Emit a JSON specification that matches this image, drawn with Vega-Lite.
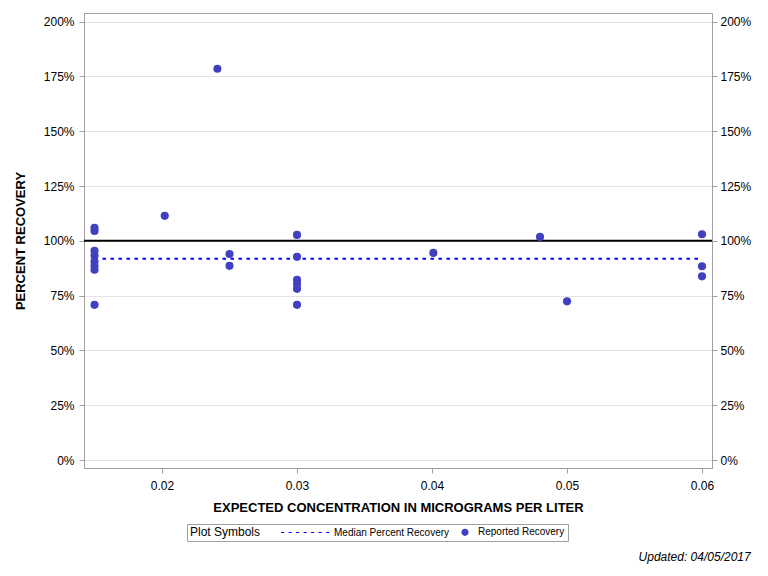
{
  "$schema": "https://vega.github.io/schema/vega-lite/v6.json",
  "autosize": {"type": "none"},
  "padding": {"left": 84, "top": 13, "right": 56, "bottom": 108},
  "width": 628,
  "height": 455,
  "background": "white",
  "title": {
    "text": "Updated: 04/05/2017",
    "orient": "bottom",
    "anchor": "end",
    "frame": "bounds",
    "font": "Liberation Sans",
    "fontSize": 12,
    "fontStyle": "italic",
    "fontWeight": "normal",
    "color": "#000000",
    "offset": 10
  },
  "config": {
    "font": "Liberation Sans",
    "view": {"stroke": "#a0a0a0"},
    "axis": {
      "labelFont": "Liberation Sans",
      "labelFontSize": 12,
      "labelColor": "#000000",
      "titleFont": "Liberation Sans",
      "titleFontSize": 13,
      "titleFontWeight": "bold",
      "titleColor": "#000000",
      "domainColor": "#a0a0a0",
      "tickColor": "#a0a0a0",
      "tickSize": 5,
      "gridColor": "#e4e4e4"
    }
  },
  "datasets": {
    "recovery": [
      {"conc": 0.015, "pct": 105.9},
      {"conc": 0.015, "pct": 104.5},
      {"conc": 0.015, "pct": 95.4},
      {"conc": 0.015, "pct": 93.2},
      {"conc": 0.015, "pct": 90.5},
      {"conc": 0.015, "pct": 88.5},
      {"conc": 0.015, "pct": 86.8},
      {"conc": 0.015, "pct": 70.8},
      {"conc": 0.0202, "pct": 111.4},
      {"conc": 0.0241, "pct": 178.5},
      {"conc": 0.025, "pct": 94.0},
      {"conc": 0.025, "pct": 88.6},
      {"conc": 0.03, "pct": 102.7},
      {"conc": 0.03, "pct": 92.7},
      {"conc": 0.03, "pct": 82.2},
      {"conc": 0.03, "pct": 80.3},
      {"conc": 0.03, "pct": 78.1},
      {"conc": 0.03, "pct": 70.8},
      {"conc": 0.0401, "pct": 94.5},
      {"conc": 0.048, "pct": 101.8},
      {"conc": 0.05, "pct": 72.4},
      {"conc": 0.06, "pct": 103.0},
      {"conc": 0.06, "pct": 88.4},
      {"conc": 0.06, "pct": 83.8}
    ],
    "median": [{"start": 0.015, "end": 0.06, "pct": 91.8}],
    "target": [{"pct": 100}]
  },
  "resolve": {"axis": {"y": "independent"}},
  "layer": [
    {
      "data": {"name": "target"},
      "mark": {"type": "rule", "color": "#000000", "strokeWidth": 2},
      "encoding": {
        "y": {
          "field": "pct",
          "type": "quantitative",
          "scale": {"domain": [-3.6, 203.9], "nice": false, "zero": false},
          "axis": {
            "orient": "left",
            "title": "PERCENT RECOVERY",
            "labelPadding": 5,
            "titlePadding": 16,
            "values": [0, 25, 50, 75, 100, 125, 150, 175, 200],
            "labelExpr": "datum.value + '%'",
            "grid": true
          }
        }
      }
    },
    {
      "data": {"name": "median"},
      "mark": {"type": "rule", "color": "#0000ff", "strokeWidth": 2, "strokeDash": [3.5, 4.5]},
      "encoding": {
        "x": {"field": "start", "type": "quantitative"},
        "x2": {"field": "end"},
        "y": {"field": "pct", "type": "quantitative", "axis": null}
      }
    },
    {
      "data": {"name": "recovery"},
      "mark": {"type": "point", "filled": true, "fill": "#4040c0", "opacity": 1, "fillOpacity": 1, "strokeWidth": 0, "size": 66},
      "encoding": {
        "x": {
          "field": "conc",
          "type": "quantitative",
          "scale": {"domain": [0.01422, 0.06074], "nice": false, "zero": false},
          "axis": {
            "title": "EXPECTED CONCENTRATION IN MICROGRAMS PER LITER",
            "labelPadding": 7,
            "titlePadding": 10,
            "values": [0.02, 0.03, 0.04, 0.05, 0.06],
            "format": ".2f",
            "grid": false
          }
        },
        "y": {
          "field": "pct",
          "type": "quantitative",
          "axis": {
            "orient": "right",
            "title": null,
            "labelPadding": 3,
            "values": [0, 25, 50, 75, 100, 125, 150, 175, 200],
            "labelExpr": "datum.value + '%'",
            "grid": false
          }
        },
        "stroke": {
          "datum": "Reported Recovery",
          "type": "nominal",
          "scale": {
            "domain": ["Median Percent Recovery", "Reported Recovery"],
            "range": ["#0000ff", "#4040c0"]
          },
          "legend": {
            "title": "Plot Symbols",
            "orient": "none",
            "legendX": 103,
            "legendY": 511,
            "direction": "horizontal",
            "gridAlign": "all",
            "titleOrient": "left",
            "titleFont": "Liberation Sans",
            "titleFontSize": 12,
            "titleFontWeight": "normal",
            "titleColor": "#000000",
            "titlePadding": 55,
            "labelFont": "Liberation Sans",
            "labelFontSize": 10,
            "labelColor": "#000000",
            "labelOffset": 8,
            "columnPadding": 9,
            "symbolSize": 36,
            "symbolStrokeWidth": 1.2,
            "strokeColor": "#a0a0a0",
            "padding": 3
          }
        },
        "shape": {
          "datum": "Reported Recovery",
          "type": "nominal",
          "scale": {
            "domain": ["Median Percent Recovery", "Reported Recovery"],
            "range": ["M-13.3,0H-12.3M-10.8,0H-9.8M-8.3,0H-7.3M-5.8,0H-4.8M-3.3,0H-2.3M-0.8,0H0.2M1.7,0H2.7", "circle"]
          },
          "legend": {
            "title": "Plot Symbols",
            "orient": "none",
            "legendX": 103,
            "legendY": 511,
            "direction": "horizontal",
            "titleOrient": "left"
          }
        }
      }
    }
  ]
}
